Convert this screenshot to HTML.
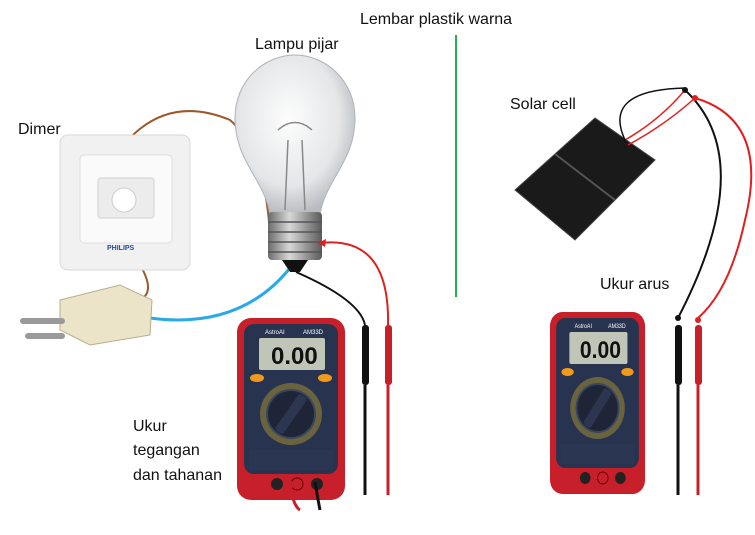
<!DOCTYPE html>
<html><head><meta charset="utf-8"><style>
html,body{margin:0;padding:0;background:#fff;width:755px;height:535px;overflow:hidden}
svg{display:block}
text{font-family:"Liberation Sans",sans-serif;font-size:16px;fill:#111}
</style></head><body>
<svg width="755" height="535" viewBox="0 0 755 535">
<defs>
<radialGradient id="glass" cx="45%" cy="40%" r="60%"><stop offset="0" stop-color="#fdfdfd"/><stop offset="0.7" stop-color="#e4e6e8"/><stop offset="1" stop-color="#b8bcc0"/></radialGradient>
<linearGradient id="base" x1="0" x2="1"><stop offset="0" stop-color="#6b6b6b"/><stop offset="0.4" stop-color="#d8d8d8"/><stop offset="1" stop-color="#5a5a5a"/></linearGradient>
<g id="meter">
<rect x="0" y="0" width="108" height="182" rx="14" fill="#c8202a"/>
<rect x="7" y="6" width="94" height="150" rx="10" fill="#27334f"/>
<text x="28" y="16" style="font-size:6px;fill:#fff">AstroAI</text><text x="66" y="16" style="font-size:6px;fill:#fff">AM33D</text>
<rect x="22" y="20" width="66" height="32" rx="2" fill="#bfc6b8"/>
<text x="34" y="46" style="font-size:24px;font-weight:bold;fill:#111">0.00</text>
<ellipse cx="20" cy="60" rx="7" ry="4" fill="#f29a1c"/><ellipse cx="88" cy="60" rx="7" ry="4" fill="#f29a1c"/>
<circle cx="54" cy="96" r="31" fill="#e6c020" opacity="0.35"/>
<circle cx="54" cy="96" r="24" fill="#1e2536" stroke="#3a4660" stroke-width="2"/>
<rect x="49" y="74" width="10" height="44" rx="3" fill="#2c3650" transform="rotate(35 54 96)"/>
<rect x="12" y="132" width="84" height="20" fill="#2b3652"/>
<circle cx="40" cy="166" r="6" fill="#222"/><circle cx="60" cy="166" r="6" fill="#c8202a" stroke="#600" /><circle cx="80" cy="166" r="6" fill="#222"/>
</g>
</defs>

<line x1="456" y1="35" x2="456" y2="297" stroke="#22b14c" stroke-width="2"/>

<text x="360" y="24">Lembar plastik warna</text>
<text x="255" y="49">Lampu pijar</text>
<text x="18" y="134">Dimer</text>
<text x="510" y="109">Solar cell</text>
<text x="600" y="289">Ukur arus</text>
<text x="133" y="431">Ukur</text>
<text x="133" y="455">tegangan</text>
<text x="133" y="480">dan tahanan</text>

<path d="M128 140 Q170 95 230 120 Q265 150 270 235" fill="none" stroke="#9c5a2a" stroke-width="2"/>
<path d="M130 250 Q160 290 140 300" fill="none" stroke="#9c5a2a" stroke-width="2"/>
<path d="M150 318 Q240 330 290 268" fill="none" stroke="#2aa9e6" stroke-width="3"/>

<rect x="60" y="135" width="130" height="135" rx="8" fill="#f1f1f1" stroke="#d8d8d8"/>
<rect x="80" y="155" width="92" height="88" rx="4" fill="#fafafa" stroke="#ddd"/>
<rect x="98" y="178" width="56" height="40" rx="3" fill="#ececec" stroke="#d0d0d0"/>
<circle cx="124" cy="200" r="12" fill="#fff" stroke="#ccc"/>
<text x="107" y="250" style="font-size:7px;font-weight:bold;fill:#1d4c9c">PHILIPS</text>

<path d="M60 300 L120 285 L152 300 L150 335 L90 345 L60 330Z" fill="#ece4c8" stroke="#b8ad8c"/>
<rect x="20" y="318" width="45" height="6" rx="3" fill="#9a9a9a"/>
<rect x="25" y="333" width="40" height="6" rx="3" fill="#9a9a9a"/>

<path d="M270 215 C265 180 235 162 235 118 C235 80 265 55 295 55 C325 55 355 80 355 118 C355 162 325 180 320 215Z" fill="url(#glass)" stroke="#b0b4b8"/>
<path d="M285 210 L288 140 M305 210 L302 140 M278 130 Q295 115 312 130" fill="none" stroke="#888" stroke-width="1.5"/>
<rect x="268" y="212" width="54" height="48" rx="4" fill="url(#base)"/>
<path d="M268 222 H322 M268 232 H322 M268 242 H322 M268 252 H322" stroke="#555" stroke-width="1.5"/>
<path d="M282 260 H308 L300 272 H290Z" fill="#111"/>

<path d="M320 243 Q390 235 388 325" fill="none" stroke="#e02020" stroke-width="2"/>
<path d="M318 243 l8 -4 l-1 8z" fill="#e02020"/>
<path d="M296 272 Q360 300 365 325" fill="none" stroke="#111" stroke-width="2"/>

<use href="#meter" x="237" y="318"/>
<rect x="362" y="325" width="7" height="60" rx="3" fill="#111"/><line x1="365" y1="385" x2="365" y2="495" stroke="#111" stroke-width="3"/>
<rect x="385" y="325" width="7" height="60" rx="3" fill="#c8202a"/><line x1="388" y1="385" x2="388" y2="495" stroke="#c8202a" stroke-width="3"/>
<path d="M290 480 Q292 505 300 510" stroke="#c8202a" stroke-width="3" fill="none"/>
<path d="M315 482 Q318 500 320 510" stroke="#111" stroke-width="3" fill="none"/>

<path d="M515 190 L595 118 L655 160 L575 240Z" fill="#1a1a1a" stroke="#444"/>
<path d="M555 154 L615 200" stroke="#555" stroke-width="2"/>
<path d="M625 140 Q660 120 685 90 M628 145 Q665 125 695 98" fill="none" stroke="#e02020" stroke-width="1.5"/>
<path d="M626 142 Q600 90 685 88" fill="none" stroke="#111" stroke-width="1.5"/>
<path d="M685 90 Q760 160 678 318" fill="none" stroke="#111" stroke-width="2"/>
<path d="M695 98 Q770 120 745 220 Q730 290 698 318" fill="none" stroke="#e02020" stroke-width="2"/>
<circle cx="685" cy="90" r="3" fill="#111"/><circle cx="695" cy="98" r="3" fill="#e02020"/>
<circle cx="678" cy="318" r="3" fill="#111"/><circle cx="698" cy="320" r="3" fill="#e02020"/>

<use href="#meter" x="0" y="0" transform="translate(550 312) scale(0.88 1)"/>
<rect x="675" y="325" width="7" height="60" rx="3" fill="#111"/><line x1="678" y1="385" x2="678" y2="495" stroke="#111" stroke-width="3"/>
<rect x="695" y="325" width="7" height="60" rx="3" fill="#c8202a"/><line x1="698" y1="385" x2="698" y2="495" stroke="#c8202a" stroke-width="3"/>
</svg>
</body></html>
